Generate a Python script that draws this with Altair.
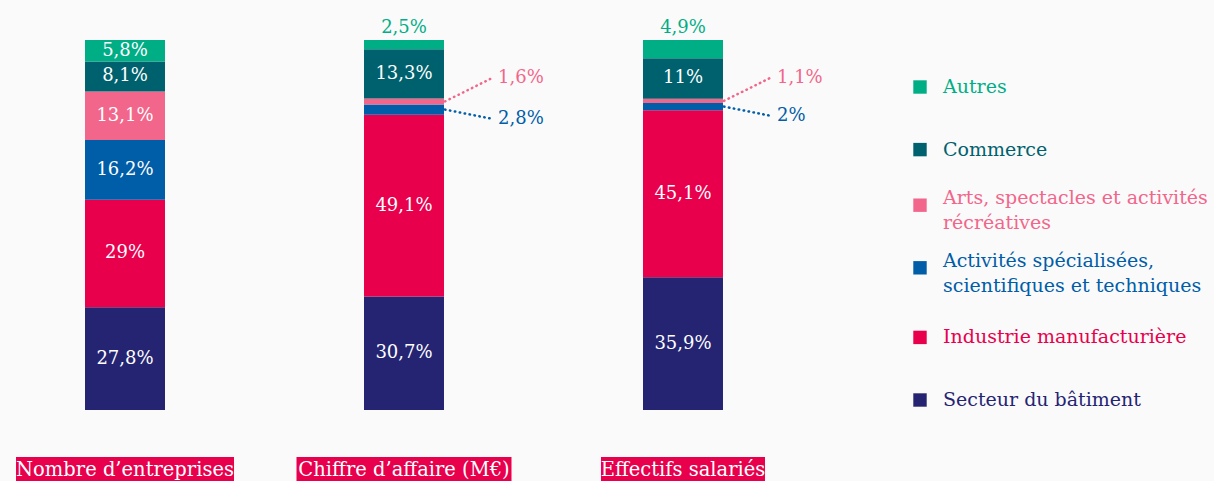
import altair as alt
import pandas as pd

# ---- data ----
bars = ["Nombre d’entreprises", "Chiffre d’affaire (M€)", "Effectifs salariés"]
sectors = [
    "Secteur du bâtiment",
    "Industrie manufacturière",
    "Activités spécialisées, scientifiques et techniques",
    "Arts, spectacles et activités récréatives",
    "Commerce",
    "Autres",
]
legend_labels = [
    "Secteur du bâtiment",
    "Industrie manufacturière",
    "Activités spécialisées,\nscientifiques et techniques",
    "Arts, spectacles et activités\nrécréatives",
    "Commerce",
    "Autres",
]
nombre = [27.8, 29, 16.2, 13.1, 8.1, 5.8]
chiffre = [30.7, 49.1, 2.8, 1.6, 13.3, 2.5]
effectifs = [35.9, 45.1, 2, 1.1, 11, 4.9]

# ---- styles ----
colors = ["#252473", "#E8004D", "#005DA8", "#F2668B", "#00616E", "#00AE86"]
BOX_WIDTHS = [218, 215, 164]
FONT = "DejaVu Serif"
BG = "#FAFAFA"

rows = []
for b, vals in zip(bars, [nombre, chiffre, effectifs]):
    for i, (s, v) in enumerate(zip(sectors, vals)):
        rows.append({"bar": b, "sector": s, "value": v, "order": i})
df = pd.DataFrame(rows)

leg = pd.DataFrame({"sector": sectors, "label": legend_labels})
boxes = pd.DataFrame({"bar": bars, "boxw": BOX_WIDTHS})

xs = alt.Scale(domain=bars, range=[0, 808], paddingInner=0.7133, paddingOuter=0.3047)
ys = alt.Scale(domain=[0, 100], range=[410, 40])
cs = alt.Scale(domain=sectors, range=colors)
ly = alt.Scale(type="point", domain=sectors[::-1], range=[87, 400], padding=0)

X = alt.X("bar:N", scale=xs, axis=None, sort=bars)
C = alt.Color("sector:N", scale=cs, legend=None)

base = (
    alt.Chart(df)
    .transform_stack(stack="value", as_=["y0", "y1"], groupby=["bar"],
                     sort=[alt.SortField("order", order="ascending")])
    .transform_calculate(
        mid="(datum.y0 + datum.y1) / 2",
        lbl="replace(toString(datum.value), '.', ',') + '%'",
        laby="(datum.y0 + datum.y1) / 2 + (datum.sector == 'Arts, spectacles et activités récréatives' ? 6.3 : -2.5)",
    )
)

bar_layer = base.mark_bar().encode(
    x=X, y=alt.Y("y0:Q", scale=ys, axis=None), y2="y1:Q", color=C
)

inside = base.transform_filter("datum.value >= 5").mark_text(
    font=FONT, fontSize=18, color="white", baseline="middle"
).encode(x=X, y=alt.Y("mid:Q", scale=ys, axis=None), text="lbl:N")

above = base.transform_filter("datum.sector == 'Autres' && datum.value < 5").mark_text(
    font=FONT, fontSize=18, baseline="middle", dy=-12
).encode(x=X, y=alt.Y("y1:Q", scale=ys, axis=None), text="lbl:N", color=C)

small = base.transform_filter("datum.sector != 'Autres' && datum.value < 5")

leaders = small.mark_rule(strokeDash=[0.5, 4.5], strokeWidth=2.5, strokeCap="round",
                          xOffset=41, x2Offset=88).encode(
    x=X, x2="bar:N", y=alt.Y("mid:Q", scale=ys, axis=None), y2="laby:Q", color=C
)

leader_txt = small.mark_text(font=FONT, fontSize=18, align="left", baseline="middle", xOffset=94).encode(
    x=X, y=alt.Y("laby:Q", scale=ys, axis=None), text="lbl:N", color=C
)

box_layer = alt.Chart(boxes).mark_bar(color="#E8004D").encode(
    x=X, y=alt.value(457), y2=alt.value(500), size=alt.Size("boxw:Q", scale=None)
)
box_txt = alt.Chart(boxes).mark_text(font=FONT, fontSize=19.5, color="white", baseline="middle").encode(
    x=X, y=alt.value(470), text="bar:N"
)

legb = alt.Chart(leg)
one_line = "indexof(datum.label, '\\n') < 0"
two_line = "indexof(datum.label, '\\n') >= 0"
LY = alt.Y("sector:N", scale=ly, axis=None)

leg_sq1 = legb.transform_filter(one_line).mark_square(size=180, opacity=1).encode(
    x=alt.value(920), y=LY, color=C
)
leg_sq2 = legb.transform_filter(two_line).mark_square(size=180, opacity=1, yOffset=-7).encode(
    x=alt.value(920), y=LY, color=C
)
leg_txt1 = legb.transform_filter(one_line).mark_text(
    font=FONT, fontSize=19, align="left", baseline="middle"
).encode(x=alt.value(943), y=LY, text="label:N", color=C)
leg_txt2 = legb.transform_filter(two_line).mark_text(
    font=FONT, fontSize=19, align="left", baseline="middle", lineBreak="\n", lineHeight=25, dy=-14
).encode(x=alt.value(943), y=LY, text="label:N", color=C)

chart = (
    alt.layer(bar_layer, inside, above, leaders, leader_txt, box_layer, box_txt,
              leg_sq1, leg_sq2, leg_txt1, leg_txt2)
    .resolve_scale(y="independent")
    .properties(width=1214, height=481, autosize=alt.AutoSizeParams(type="none"), padding=0,
                background=BG)
    .configure_view(stroke=None)
)

chart.save("out.html", embed_options={"renderer": "svg", "actions": False})
